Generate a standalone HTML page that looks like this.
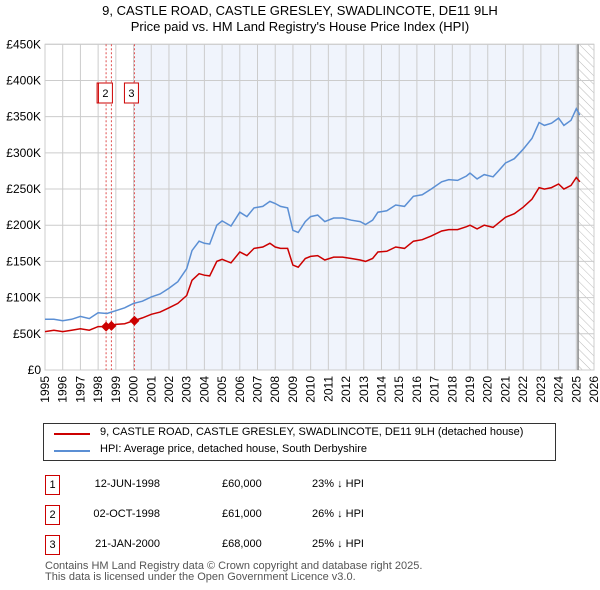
<!DOCTYPE html>
<html><head><meta charset="utf-8"><style>
body{margin:0;background:#fff;font-family:"Liberation Sans","DejaVu Sans",sans-serif;}
#wrap{position:relative;width:600px;height:590px;}
.t{position:absolute;font-size:12px;color:#000;}
</style></head><body><div id="wrap">
<div class="t" style="left:0;width:600px;top:3px;text-align:center;font-size:13px;line-height:16px">9, CASTLE ROAD, CASTLE GRESLEY, SWADLINCOTE, DE11 9LH<br>Price paid vs. HM Land Registry's House Price Index (HPI)</div>
<svg id="chart" width="600" height="420" style="position:absolute;left:0;top:0"></svg>
<div style="position:absolute;left:43px;top:423px;width:511px;height:36px;border:1px solid #333;font-size:11px">
<div style="position:absolute;left:10px;top:9px;width:36px;border-top:2px solid #cc0000"></div>
<div class="t" style="left:56px;top:2px;font-size:11px">9, CASTLE ROAD, CASTLE GRESLEY, SWADLINCOTE, DE11 9LH (detached house)</div>
<div style="position:absolute;left:10px;top:26px;width:36px;border-top:2px solid #5b8fd4"></div>
<div class="t" style="left:56px;top:19px;font-size:11px">HPI: Average price, detached house, South Derbyshire</div>
</div>
<div id="tbl"></div>
<div class="t" style="left:45px;top:561px;font-size:11px;line-height:11px;color:#555">Contains HM Land Registry data © Crown copyright and database right 2025.<br>This data is licensed under the Open Government Licence v3.0.</div>
</div>
<script>
const years=[1995,1995.5,1996,1996.5,1997,1997.5,1998,1998.5,1999,1999.5,2000,2000.5,2001,2001.5,2002,2002.5,2003,2003.3,2003.7,2004,2004.3,2004.7,2005,2005.5,2006,2006.4,2006.8,2007.3,2007.7,2008,2008.3,2008.7,2009,2009.3,2009.7,2010,2010.4,2010.8,2011.3,2011.8,2012.3,2012.8,2013.1,2013.5,2013.8,2014.3,2014.8,2015.3,2015.8,2016.3,2016.8,2017.4,2017.8,2018.3,2018.8,2019,2019.4,2019.8,2020.3,2020.6,2021,2021.5,2022,2022.5,2022.9,2023.2,2023.6,2024,2024.3,2024.7,2025,2025.2];
const hpi=[70,70,68,70,74,71,79,78,82,86,92,95,101,105,113,122,140,165,178,175,174,200,206,199,218,212,224,226,233,230,226,224,193,190,205,212,214,205,210,210,207,205,201,207,218,220,228,226,240,242,250,260,263,262,268,272,264,270,267,275,286,292,305,320,342,338,341,348,338,345,361,352];
const paid=[53,55,53,55,57,55,60,60,63,64,68,72,77,80,86,92,103,124,133,131,130,150,153,148,163,158,168,170,175,170,168,168,145,142,154,157,158,152,156,156,154,152,150,154,163,164,170,168,178,180,185,192,194,194,198,200,195,200,197,203,211,216,225,236,252,250,252,257,250,255,266,260];
const saleYears=[1998.45,1998.75,2000.05];
const salePrices=[60,61,68];
const saleLabels=["1","2","3"];
const yTicks=[0,50,100,150,200,250,300,350,400,450];
const yTickLabels=["£0","£50K","£100K","£150K","£200K","£250K","£300K","£350K","£400K","£450K"];
const xTicks=[];for(let y=1995;y<=2026;y++)xTicks.push(y);
const dates=["12-JUN-1998","02-OCT-1998","21-JAN-2000"];
const prices=["£60,000","£61,000","£68,000"];
const diffs=["23% ↓ HPI","26% ↓ HPI","25% ↓ HPI"];

const X0=45,X1=594,Y0=370,Y1=44.3;
const xs=v=>X0+(v-1995)*(X1-X0)/31;
const ys=v=>Y0-v*(Y0-Y1)/450;
const svg=document.getElementById('chart');const NS='http://www.w3.org/2000/svg';
function mk(t,a,p){const e=document.createElementNS(NS,t);for(const k in a)e.setAttribute(k,a[k]);(p||svg).appendChild(e);return e;}
svg.innerHTML='<defs><pattern id="hat" width="6" height="6" patternUnits="userSpaceOnUse" patternTransform="rotate(-45)"><line x1="0" y1="0" x2="0" y2="6" stroke="#bbb" stroke-width="1"/></pattern></defs>';
let r=mk('rect',{x:xs(2000.05),y:Y1,width:xs(2025.1)-xs(2000.05),height:Y0-Y1,fill:'#f0f4fc'});


r=mk('rect',{x:xs(2025.1),y:Y1,width:X1-xs(2025.1),height:Y0-Y1,fill:'url(#hat)'});


yTicks.forEach((v,i)=>{
 const l=mk('line',{x1:X0,x2:X1,y1:ys(v),y2:ys(v),stroke:'#ccc'});
 
 
 const t=mk('text',{x:X0-4,y:ys(v)+4,'text-anchor':'end','font-size':12});t.textContent=yTickLabels[i];
 
 
});
xTicks.forEach(v=>{
 const l=mk('line',{x1:xs(v),x2:xs(v),y1:Y1,y2:Y0,stroke:'#ccc'});
 
 
 const t=mk('text',{x:0,y:0,'text-anchor':'end','font-size':12,transform:`translate(${xs(v)+4},${Y0+6}) rotate(-90)`});t.textContent=v;
 
 
});
const bd=mk('rect',{x:X0,y:Y1,width:X1-X0,height:Y0-Y1,fill:'none',stroke:'#ccc'});


const lend=mk('line',{x1:xs(2025.1),x2:xs(2025.1),y1:Y1,y2:Y0,stroke:'#888','stroke-width':1.5});


saleYears.forEach((v,i)=>{
 const l=mk('line',{x1:xs(v),x2:xs(v),y1:Y1,y2:Y0,stroke:'#e05050','stroke-dasharray':'2,2'});
 
 
});
function path(vals,col,name){
 const d=vals.map((v,i)=>(i?'L':'M')+xs(years[i]).toFixed(1)+','+ys(v).toFixed(1)).join('');
 const p=mk('path',{d:d,fill:'none',stroke:col,'stroke-width':1.5});
 
 
}
path(hpi,'#5b8fd4','hpi-line');
path(paid,'#cc0000','price-paid-line');
saleYears.forEach((v,i)=>{
 const cx=xs(v),cy=ys(salePrices[i]);
 const d=mk('path',{d:`M${cx},${cy-5}L${cx+5},${cy}L${cx},${cy+5}L${cx-5},${cy}Z`,fill:'#cc0000'});
 
 
});
const lbx=[xs(saleYears[0])-9,xs(saleYears[1])-16+3,xs(saleYears[2])-10];
saleLabels.forEach((s,i)=>{
 const g=mk('g',{});
 
 
 mk('rect',{x:lbx[i],y:83,width:14,height:20,fill:'#fff',stroke:'#cc0000'},g);
 const t=mk('text',{x:lbx[i]+7,y:97,'text-anchor':'middle','font-size':11},g);t.textContent=s;
});
const tbl=document.getElementById('tbl');
const rowsY=[475,505,535];
dates.forEach((d,i)=>{
 const row=document.createElement('div');
 
 
 row.style.cssText=`position:absolute;left:0;top:${rowsY[i]}px;width:600px;height:20px;font-size:11px`;
 row.innerHTML=`<div style="position:absolute;left:45px;top:0;width:13px;height:18px;border:1px solid #cc0000;text-align:center;line-height:18px">${i+1}</div><div style="position:absolute;left:60px;width:100px;text-align:right;top:3px">${d}</div><div style="position:absolute;left:222px;top:3px">${prices[i]}</div><div style="position:absolute;left:312px;top:3px">${diffs[i]}</div>`;
 tbl.appendChild(row);
});
</script></body></html>
